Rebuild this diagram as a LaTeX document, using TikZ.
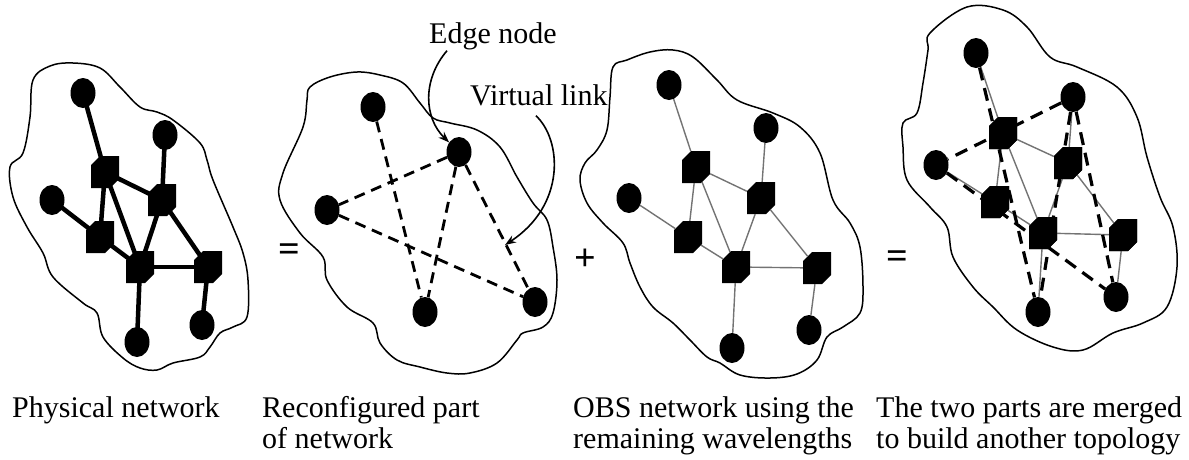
\documentclass[tikz,border=0pt]{standalone}
\usepackage{fontspec}
\setmainfont{Liberation Serif}
\usetikzlibrary{shapes.geometric,shapes.misc,arrows.meta,calc}

\begin{document}
\begin{tikzpicture}[x=1pt,y=-1pt,
  cloud/.style={line width=1.5pt, line join=round},
  host/.style={ellipse, fill=black, inner sep=0pt, minimum width=25pt, minimum height=30pt},
  switch/.style={chamfered rectangle, chamfered rectangle corners={north west,south east},
    chamfered rectangle xsep=4.5pt, chamfered rectangle ysep=4.5pt,
    fill=black, inner xsep=9.5pt, inner ysep=11.5pt, minimum size=0pt},
  fibre/.style={line width=4.5pt},
  vlink/.style={line width=2.8pt, dash pattern=on 11pt off 7pt},
  obslink/.style={line width=1.4pt, black!55},
  mvlink/.style={line width=3.2pt, dash pattern=on 13pt off 8pt},
  callout/.style={line width=1.6pt, -{Stealth[length=11pt,width=8pt]}},
  caption/.style={anchor=north west, inner sep=0pt, align=left,
    font=\fontsize{30}{31}\selectfont},
  sign/.style={inner sep=0pt, font=\fontsize{38}{38}\selectfont\bfseries}
]
\useasboundingbox (0,0) rectangle (1189,459);

% ---------- physical network ----------
\draw[cloud] plot[smooth cycle, tension=0.6] coordinates {
  (33,80) (50,66) (73,63) (100,68) (120,87) (140,107) (157,112) (173,120)
  (200,143) (207,160) (213,180) (233,227) (243,253) (248,280) (247,317)
  (233,327) (220,333) (210,347) (200,357) (173,363) (157,370) (140,368)
  (123,358) (103,337) (97,313) (83,303) (53,277) (43,253) (27,227)
  (13,197) (10,167) (23,153) (30,117)};
\node[host]   (p1a)  at (83,93)  {};
\node[host]   (p1b)  at (165,135) {};
\node[switch] (p1s1) at (105,172) {};
\node[host]   (p1c)  at (52,200) {};
\node[switch] (p1s2) at (162,200) {};
\node[switch] (p1s3) at (100,237) {};
\node[switch] (p1s4) at (140,267) {};
\node[switch] (p1s5) at (208,267) {};
\node[host]   (p1d)  at (137,342) {};
\node[host]   (p1e)  at (202,325) {};
\foreach \u/\v in {p1a/p1s1, p1b/p1s2, p1c/p1s3, p1s1/p1s3, p1s1/p1s2,
  p1s1/p1s4, p1s3/p1s4, p1s2/p1s4, p1s2/p1s5, p1s4/p1s5, p1s4/p1d, p1s5/p1e}
  \draw[fibre] (\u.center) -- (\v.center);

% ---------- reconfigured part ----------
\draw[cloud] plot[smooth cycle, tension=0.6] coordinates {
  (310,87) (330,77) (357,72) (380,75) (403,83) (420,103) (433,118) (450,123)
  (477,130) (500,147) (517,177) (533,203) (547,220) (553,247) (557,280)
  (553,313) (543,327) (523,333) (517,340) (497,363) (470,373) (447,373)
  (420,367) (397,360) (380,343) (373,323) (347,307) (327,280) (323,257)
  (300,233) (280,200) (283,173) (303,127) (307,100)};
\node[host] (p2a) at (373,107) {};
\node[host] (p2b) at (459,152) {};
\node[host] (p2c) at (327,210) {};
\node[host] (p2d) at (425,312) {};
\node[host] (p2e) at (535,302) {};
\foreach \u/\v in {p2a/p2d, p2b/p2c, p2b/p2d, p2b/p2e, p2c/p2e}
  \draw[vlink] (\u) -- (\v);

\node[anchor=base west, inner sep=0pt, font=\fontsize{30}{31}\selectfont]
  (enlab) at (429,43) {Edge node};
\node[anchor=base west, inner sep=0pt, font=\fontsize{30}{31}\selectfont]
  (vllab) at (470,105) {Virtual link};
\coordinate (vltip) at (505,245);
\draw[callout] ($(enlab.south west)+(18,1)$) .. controls (422,80) and (424,118) .. (p2b);
\draw[callout] ($(vllab.south)+(-3,10)$) .. controls (562,140) and (566,205) .. (vltip);

% ---------- OBS network ----------
\draw[cloud] plot[smooth cycle, tension=0.6] coordinates {
  (613,67) (627,60) (650,52) (673,50) (693,57) (717,80) (737,100) (773,113)
  (800,127) (820,153) (833,200) (850,223) (860,247) (863,287) (860,313)
  (843,327) (827,337) (817,360) (797,374) (770,378) (740,375) (720,363)
  (707,357) (690,340) (673,323) (653,307) (640,287) (630,263) (623,243)
  (603,223) (587,203) (580,180) (585,163) (597,150) (607,130) (610,97)};
\node[host]   (p3a)  at (669,85)  {};
\node[host]   (p3b)  at (766,128) {};
\node[switch] (p3s1) at (696,167) {};
\node[host]   (p3c)  at (629,198) {};
\node[switch] (p3s2) at (761,198) {};
\node[switch] (p3s3) at (688,237) {};
\node[switch] (p3s4) at (736,267) {};
\node[switch] (p3s5) at (817,268) {};
\node[host]   (p3d)  at (732,348) {};
\node[host]   (p3e)  at (809,330) {};
\foreach \u/\v in {p3a/p3s1, p3b/p3s2, p3c/p3s3, p3s1/p3s3, p3s1/p3s2,
  p3s1/p3s4, p3s3/p3s4, p3s2/p3s4, p3s2/p3s5, p3s4/p3s5, p3s4/p3d, p3s5/p3e}
  \draw[obslink] (\u) -- (\v);

% ---------- merged topology ----------
\draw[cloud] plot[smooth cycle, tension=0.6] coordinates {
  (928,50) (930,33) (967,7) (1003,10) (1027,27) (1050,57) (1077,67)
  (1117,87) (1137,117) (1147,157) (1160,197) (1173,227) (1177,267)
  (1167,307) (1143,323) (1113,333) (1083,350) (1053,347) (1017,330)
  (993,307) (973,287) (953,257) (947,227) (930,207) (907,180) (903,147)
  (903,123) (917,113) (923,83)};
\node[host]   (p4a)  at (976,53)  {};
\node[host]   (p4b)  at (1073,97) {};
\node[switch] (p4s1) at (1003,133) {};
\node[host]   (p4c)  at (936,165) {};
\node[switch] (p4s2) at (1068,163) {};
\node[switch] (p4s3) at (995,202) {};
\node[switch] (p4s4) at (1043,233) {};
\node[switch] (p4s5) at (1123,235) {};
\node[host]   (p4d)  at (1038,312) {};
\node[host]   (p4e)  at (1116,297) {};
\foreach \u/\v in {p4a/p4s1, p4b/p4s2, p4c/p4s3, p4s1/p4s3, p4s1/p4s2,
  p4s1/p4s4, p4s3/p4s4, p4s2/p4s4, p4s2/p4s5, p4s4/p4s5, p4s4/p4d, p4s5/p4e}
  \draw[obslink] (\u) -- (\v);
\foreach \u/\v in {p4a/p4d, p4b/p4c, p4b/p4d, p4b/p4e, p4c/p4e}
  \draw[mvlink] (\u) -- (\v);
\foreach \n in {p4s1,p4s2,p4s3,p4s4,p4s5}
  \node[switch] at (\n) {};

% ---------- operators ----------
\node[sign] (eq1)  at (289,253) {=};
\node[sign] (plus) at (585,260) {+};
\node[sign] (eq2)  at (897,260) {=};

% ---------- captions ----------
\node[caption] (cap1) at (12,396)  {Physical network};
\node[caption] (cap2) at (262,396) {Reconfigured part\\of network};
\node[caption] (cap3) at (573,396) {OBS network using the\\remaining wavelengths};
\node[caption] (cap4) at (876,396) {The two parts are merged\\to build another topology};
\end{tikzpicture}
\end{document}
